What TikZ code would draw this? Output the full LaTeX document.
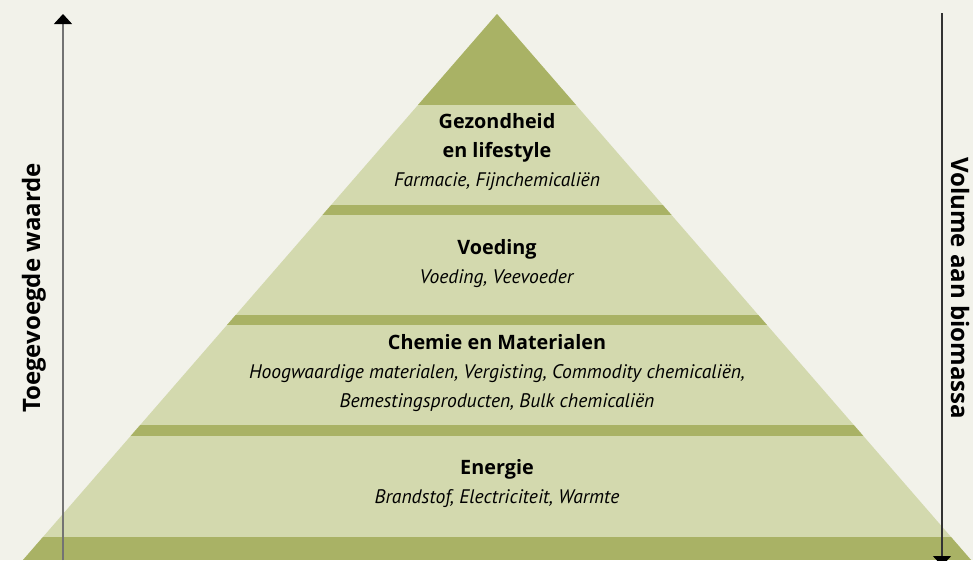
\documentclass[tikz,border=0pt]{standalone}
\usepackage{fontspec}
\setmainfont{PT Sans}
\newfontfamily\headfont{Open Sans}
\usetikzlibrary{arrows.meta,positioning}
\definecolor{bgcream}{RGB}{242,242,234}
\definecolor{darkolive}{RGB}{169,178,101}
\definecolor{lightolive}{RGB}{211,217,174}
\tikzstyle{band} = [fill=darkolive]
\tikzstyle{layer} = [fill=lightolive]
\tikzstyle{layertext} = [align=center, inner sep=0pt, font=\fontsize{19.6}{29}\selectfont]
\tikzstyle{sidetext} = [inner sep=0pt, font=\headfont\fontsize{24}{28}\selectfont\bfseries]
\tikzstyle{valueline} = [draw=black!55, line width=1.3pt]
\tikzstyle{volumeline} = [draw=black!80, line width=1.3pt]
\newcommand{\layertitle}[1]{{\headfont\bfseries\fontsize{19.8}{29}\selectfont #1}}
\newcommand{\layeritems}[1]{\textit{#1}}

\begin{document}
\begin{tikzpicture}[x=1pt, y=-1pt, >={Triangle[width=18pt,length=10pt,color=black]}]

\fill[bgcream] (0,0) rectangle (973,560);
\useasboundingbox (0,0) rectangle (973,560);

\coordinate (apex) at (497,14);
\coordinate (baseleft) at (23,560);
\coordinate (baseright) at (971,560);

% pyramid
\begin{scope}
\clip (apex) -- (baseright) -- (baseleft) -- cycle;
\fill[layer] (0,0) rectangle (973,560);
\fill[band] (0,0) rectangle (973,105);
\fill[band] (0,205) rectangle (973,215);
\fill[band] (0,315) rectangle (973,325);
\fill[band] (0,425) rectangle (973,436);
\fill[band] (0,537) rectangle (973,560);
\end{scope}

\node[layertext] (health) at (497,152) {\layertitle{Gezondheid}\\\layertitle{en lifestyle}\\\layeritems{Farmacie, Fijnchemicaliën}};
\node[layertext] (food) at (497,264) {\layertitle{Voeding}\\\layeritems{Voeding, Veevoeder}};
\node[layertext] (chem) at (497,373) {\layertitle{Chemie en Materialen}\\\layeritems{Hoogwaardige materialen, Vergisting, Commodity chemicaliën,}\\\layeritems{Bemestingsproducten, Bulk chemicaliën}};
\node[layertext] (energy) at (497,484) {\layertitle{Energie}\\\layeritems{Brandstof, Electriciteit, Warmte}};

% axes
\coordinate (valuebottom) at (63,560);
\coordinate (valuetop) at (63,14);
\coordinate (volumetop) at (942,13);
\coordinate (volumebottom) at (942,566);

\draw[valueline, ->] (valuebottom) -- (valuetop);
\draw[volumeline, ->] (volumetop) -- (volumebottom);

\node[sidetext, rotate=90] (valuetext) at (34,288) {Toegevoegde waarde};
\node[sidetext, rotate=-90] (volumetext) at (960,288) {Volume aan biomassa};

\end{tikzpicture}
\end{document}
